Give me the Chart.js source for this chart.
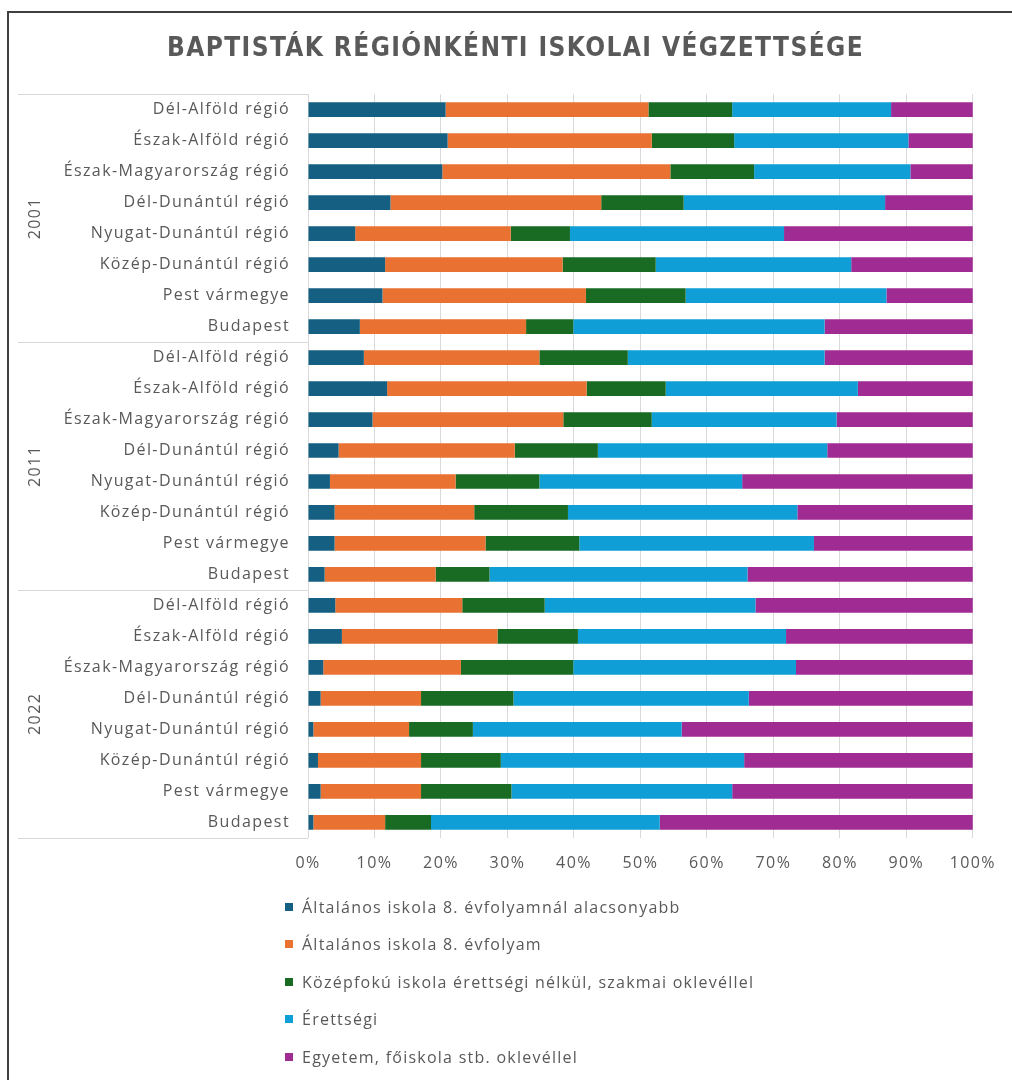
<!DOCTYPE html>
<html lang="hu">
<head>
<meta charset="utf-8">
<title>Baptisták régiónkénti iskolai végzettsége</title>
<script src="https://cdn.jsdelivr.net/npm/chart.js@4/dist/chart.umd.min.js"></script>
<style>
  html, body { margin: 0; padding: 0; background: #fff; }
  #wrap { position: relative; width: 1012px; height: 1080px; overflow: hidden; }
  #chart { position: absolute; left: 0; top: 0; }
  #legend {
    position: absolute; left: 285px; top: 888px; margin: 0; padding: 0; list-style: none;
    font-family: "Open Sans", sans-serif; font-size: 16px; letter-spacing: 1.25px; color: #595959;
  }
  #legend li { display: flex; align-items: center; height: 37.5px; white-space: nowrap; }
  #legend .box { width: 8px; height: 8px; margin-right: 9px; flex: none; }
</style>
</head>
<body>
<div id="wrap">
  <canvas id="chart" width="1012" height="1080"></canvas>
  <ul id="legend"></ul>
</div>
<script>
// --- adatok (értékek az ábráról leolvasva, %) ---
const years = ["2001", "2011", "2022"];
const regions = [
  "Dél-Alföld régió",
  "Észak-Alföld régió",
  "Észak-Magyarország régió",
  "Dél-Dunántúl régió",
  "Nyugat-Dunántúl régió",
  "Közép-Dunántúl régió",
  "Pest vármegye",
  "Budapest"
];
const xTicks = [0, 10, 20, 30, 40, 50, 60, 70, 80, 90, 100];

// sorrend: 2001 (8 régió), 2011 (8 régió), 2022 (8 régió)
const alacsonyabb = [
  20.7, 21.0, 20.2, 12.4, 7.1, 11.6, 11.2, 7.8,
  8.4, 11.9, 9.7, 4.6, 3.3, 4.0, 4.0, 2.5,
  4.1, 5.1, 2.3, 1.9, 0.8, 1.5, 1.9, 0.8
];
const nyolcOsztaly = [
  30.5, 30.7, 34.3, 31.7, 23.4, 26.7, 30.6, 25.0,
  26.4, 30.0, 28.7, 26.5, 18.9, 21.0, 22.7, 16.7,
  19.1, 23.4, 20.7, 15.1, 14.4, 15.5, 15.1, 10.8
];
const szakmai = [
  12.6, 12.4, 12.6, 12.4, 8.9, 14.0, 15.0, 7.1,
  13.3, 11.9, 13.3, 12.5, 12.6, 14.1, 14.1, 8.1,
  12.4, 12.1, 16.9, 13.9, 9.6, 12.0, 13.6, 6.9
];
const erettsegi = [
  23.9, 26.2, 23.5, 30.3, 32.2, 29.4, 30.2, 37.8,
  29.6, 28.9, 27.8, 34.5, 30.5, 34.5, 35.3, 38.8,
  31.7, 31.3, 33.5, 35.4, 31.4, 36.6, 33.2, 34.4
];
const diplomas = [
  12.3, 9.7, 9.4, 13.2, 28.4, 18.3, 13.0, 22.3,
  22.3, 17.3, 20.5, 21.9, 34.7, 26.4, 23.9, 33.9,
  32.7, 28.1, 26.6, 33.7, 43.8, 34.4, 36.2, 47.1
];

const seriesNames = [
  "Általános iskola 8. évfolyamnál alacsonyabb",
  "Általános iskola 8. évfolyam",
  "Középfokú iskola érettségi nélkül, szakmai oklevéllel",
  "Érettségi",
  "Egyetem, főiskola stb. oklevéllel"
];
const seriesValues = [alacsonyabb, nyolcOsztaly, szakmai, erettsegi, diplomas];
const seriesColors = ["#156082", "#E97132", "#196B24", "#0F9ED5", "#A02B93"];

const TEXT_COLOR = "#595959";
const LINE_COLOR = "#d9d9d9";
const FONT = "'Open Sans', sans-serif";
const SPACING = "1.4px";

const labels = years.flatMap(() => regions);

// keret, csoportvonalak és évszámok a függőleges tengelyen
const groupAxisPlugin = {
  id: "groupAxis",
  beforeUpdate(chart) { chart.ctx.letterSpacing = SPACING; },
  beforeDraw(chart) {
    const ctx = chart.ctx;
    ctx.letterSpacing = SPACING;
    ctx.save();
    ctx.strokeStyle = "#3f3f3f";
    ctx.lineWidth = 2;
    ctx.beginPath();
    ctx.moveTo(8, chart.height);
    ctx.lineTo(8, 12);
    ctx.lineTo(chart.width, 12);
    ctx.stroke();
    ctx.restore();
  },
  afterDraw(chart) {
    const ctx = chart.ctx;
    const yScale = chart.scales.y;
    const right = chart.chartArea.left;
    const x0 = right - 290;
    const n = regions.length;
    ctx.save();
    ctx.strokeStyle = LINE_COLOR;
    ctx.lineWidth = 1;
    for (let g = 0; g <= years.length; g++) {
      const yy = Math.round(yScale.getPixelForValue(g * n - 0.5)) + 0.5;
      ctx.beginPath();
      ctx.moveTo(x0, yy);
      ctx.lineTo(right, yy);
      ctx.stroke();
    }
    ctx.fillStyle = TEXT_COLOR;
    ctx.font = "16px " + FONT;
    ctx.textAlign = "center";
    ctx.textBaseline = "middle";
    years.forEach((yr, g) => {
      const top = yScale.getPixelForValue(g * n - 0.5);
      const bottom = yScale.getPixelForValue((g + 1) * n - 0.5);
      ctx.save();
      ctx.translate(x0 + 17, (top + bottom) / 2);
      ctx.rotate(-Math.PI / 2);
      ctx.fillText(yr, 0, 0);
      ctx.restore();
    });
    ctx.restore();
  }
};

new Chart(document.getElementById("chart"), {
  type: "bar",
  data: {
    labels: labels,
    datasets: seriesNames.map((name, i) => ({
      label: name,
      data: seriesValues[i],
      backgroundColor: seriesColors[i],
      borderWidth: 0,
      barPercentage: 0.95,
      categoryPercentage: 0.5
    }))
  },
  options: {
    indexAxis: "y",
    responsive: false,
    animation: false,
    layout: { padding: { left: 58, right: 39, top: 0, bottom: 191 } },
    plugins: {
      legend: { display: false },
      tooltip: { enabled: false },
      title: {
        display: true,
        text: "BAPTISTÁK RÉGIÓNKÉNTI ISKOLAI VÉGZETTSÉGE",
        color: TEXT_COLOR,
        font: { family: "'Liberation Sans Narrow', 'DejaVu Sans Condensed', sans-serif", size: 26, weight: "bold", lineHeight: 1.2 },
        padding: { top: 34, bottom: 29 }
      }
    },
    scales: {
      x: {
        stacked: true,
        min: 0,
        max: 100,
        afterBuildTicks(scale) { scale.ticks = xTicks.map(v => ({ value: v })); },
        ticks: {
          color: TEXT_COLOR,
          font: { family: FONT, size: 16 },
          padding: 16,
          callback: v => v + "%"
        },
        grid: { color: LINE_COLOR, drawTicks: false },
        border: { display: false }
      },
      y: {
        stacked: true,
        afterFit(scale) { scale.width = 250; },
        ticks: {
          color: TEXT_COLOR,
          font: { family: FONT, size: 16 },
          padding: 18,
          autoSkip: false
        },
        grid: { display: false, drawTicks: false },
        border: { display: true, color: LINE_COLOR }
      }
    }
  },
  plugins: [groupAxisPlugin]
});

// jelmagyarázat
const legendEl = document.getElementById("legend");
seriesNames.forEach((name, i) => {
  const li = document.createElement("li");
  const box = document.createElement("span");
  box.className = "box";
  box.style.background = seriesColors[i];
  li.appendChild(box);
  li.appendChild(document.createTextNode(name));
  legendEl.appendChild(li);
});
</script>
</body>
</html>
